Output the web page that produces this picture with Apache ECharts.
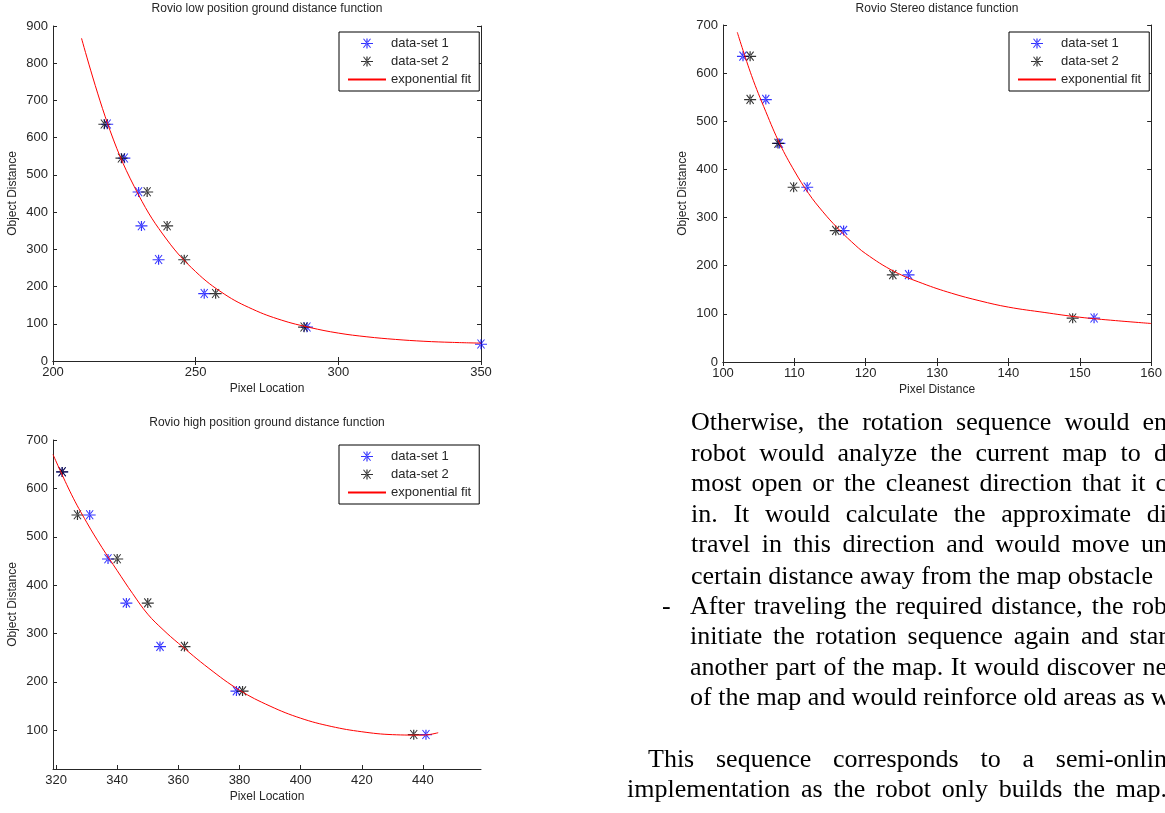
<!DOCTYPE html>
<html>
<head>
<meta charset="utf-8">
<title>Rovio distance functions</title>
<script src="https://cdn.jsdelivr.net/npm/echarts@6.0.0/dist/echarts.min.js"></script>
<style>
  html, body { margin: 0; padding: 0; background: #fff; }
  #chart { width: 1165px; height: 813px; }
</style>
</head>
<body>
<div id="chart"></div>
<script>
// Rovio low position ground distance function
const lowSet1X = [219, 225, 230, 231, 237, 253, 289, 350]
const lowSet1Y = [636, 545, 454, 363, 272, 181, 91, 45]
const lowSet2X = [218, 224, 233, 240, 246, 257, 288]
const lowSet2Y = [636, 545, 454, 363, 272, 181, 91]
const lowFitX = [210, 220, 230, 240, 250, 260, 270, 280, 290, 300, 310, 320, 330, 340, 350]
const lowFitY = [867, 619, 446, 325, 240, 180, 139, 110, 90, 75, 65, 58, 53, 50, 48]

// Rovio Stereo distance function
const stereoSet1X = [102.8, 106, 107.9, 111.8, 116.9, 126, 152]
const stereoSet1Y = [635, 545, 454, 363, 273, 181, 91]
const stereoSet2X = [103.8, 103.8, 107.7, 109.9, 115.8, 123.8, 149]
const stereoSet2Y = [635, 545, 454, 363, 273, 181, 91]
const stereoFitX = [102, 104, 106, 108, 110, 112, 114, 116, 118, 120, 124, 128, 132, 136, 140, 145, 150, 155, 160]
const stereoFitY = [685, 595, 520, 452, 397, 350, 312, 279, 250, 225, 188, 163, 143, 127, 114, 103, 93, 86, 80]

// Rovio high position ground distance function
const highSet1X = [322, 331, 337, 343, 354, 379, 441]
const highSet1Y = [634, 545, 454, 363, 273, 181, 91]
const highSet2X = [322, 327, 340, 350, 362, 381, 437]
const highSet2Y = [634, 545, 454, 363, 273, 181, 91]
const highFitX = [319, 325, 330, 335, 340, 345, 350, 355, 360, 370, 380, 390, 400, 410, 420, 430, 440, 445]
const highFitY = [670, 588, 530, 478, 430, 383, 340, 308, 280, 228, 183, 150, 125, 108, 97, 91, 90, 95]

// tick labels
const highXTicks = [320, 340, 360, 380, 400, 420, 440]
const highYTicks = [100, 200, 300, 400, 500, 600, 700]

const legendNames = ['data-set 1', 'data-set 2', 'exponential fit']

// page text next to the charts
const paraLines = [
  { text: 'Otherwise, the rotation sequence would en', x: 691, y: 423, justify: true },
  { text: 'robot would analyze the current map to d', x: 691, y: 454, justify: true },
  { text: 'most open or the cleanest direction that it c', x: 691, y: 484, justify: true },
  { text: 'in. It would calculate the approximate di', x: 691, y: 515, justify: true },
  { text: 'travel in this direction and would move un', x: 691, y: 545, justify: true },
  { text: 'certain distance away from the map obstacle', x: 691, y: 577, justify: false },
  { text: '-', x: 662, y: 607, justify: false },
  { text: 'After traveling the required distance, the rob', x: 690, y: 607, justify: true },
  { text: 'initiate the rotation sequence again and star', x: 690, y: 637, justify: true },
  { text: 'another part of the map. It would discover ne', x: 690, y: 668, justify: true },
  { text: 'of the map and would reinforce old areas as w', x: 690, y: 698, justify: false },
  { text: 'This sequence corresponds to a semi-onlin', x: 648, y: 760, justify: true },
  { text: 'implementation as the robot only builds the map.', x: 627, y: 790, justify: true }
]

const pairs = (xs, ys) => xs.map((x, i) => [x, ys[i]])

// matlab style '*' marker
const star = 'path://M0,4.4H12V5.6H0Z M5.4,0H6.6V10H5.4Z M2.1,0.6L2.9,0L10,9L9.2,9.6Z M9.9,0.6L9.1,0L2,9L2.8,9.6Z'

const sans = 'Liberation Sans'
const ink = '#262626'
const axisLine = { show: true, lineStyle: { color: ink, width: 1 } }
const tick = { show: true, inside: true, length: 4, lineStyle: { color: ink } }
const label = { fontFamily: sans, fontSize: 13, color: ink }
const nameStyle = { fontFamily: sans, fontSize: 12, color: ink }

function bottomAxis (grid, min, max, interval, name) {
  return {
    type: 'value', gridIndex: grid, position: 'bottom', min: min, max: max, interval: interval,
    name: name, nameLocation: 'middle', nameGap: 22, nameTextStyle: nameStyle,
    axisLine: axisLine, axisTick: tick, axisLabel: Object.assign({ margin: 5 }, label),
    splitLine: { show: false }
  }
}
function leftAxis (grid, min, max, interval) {
  return {
    type: 'value', gridIndex: grid, position: 'left', min: min, max: max, interval: interval,
    name: 'Object Distance', nameLocation: 'middle', nameGap: 34, nameTextStyle: nameStyle,
    axisLine: axisLine, axisTick: tick, axisLabel: Object.assign({ margin: 5 }, label),
    splitLine: { show: false }
  }
}
function frameAxis (grid, pos, min, max, interval) {
  return {
    type: 'value', gridIndex: grid, position: pos, min: min, max: max, interval: interval,
    axisLine: axisLine, axisTick: tick, axisLabel: { show: false }, splitLine: { show: false }
  }
}

const highX = bottomAxis(2, 319, 459, null, 'Pixel Location')
highX.axisLabel.customValues = highXTicks
highX.axisTick = Object.assign({ customValues: highXTicks }, tick)
const highY = leftAxis(2, 20, 700, null)
highY.axisLabel.customValues = highYTicks
highY.axisTick = Object.assign({ customValues: highYTicks }, tick)

function scatter (name, x, y, data, color) {
  return {
    name: name, type: 'scatter', xAxisIndex: x, yAxisIndex: y, data: data,
    symbol: star, symbolSize: [12, 10], itemStyle: { color: color }, z: 3
  }
}
// the symbol is kept but made transparent so the legend only shows the red line
function fit (x, y, data) {
  return {
    name: 'exponential fit', type: 'line', xAxisIndex: x, yAxisIndex: y, data: data,
    smooth: 0.4, showSymbol: false, symbol: 'circle', symbolSize: 1,
    lineStyle: { color: '#ff0000', width: 1 },
    itemStyle: { color: 'rgba(255,0,0,0)', borderWidth: 0 }, z: 4
  }
}

function legendAt (left, top) {
  return {
    left: left, top: top, orient: 'vertical', data: legendNames, selectedMode: false,
    backgroundColor: '#fff', borderColor: '#000', borderWidth: 1, padding: [5, 8, 5, 8],
    itemGap: 5, itemWidth: 38, itemHeight: 10,
    textStyle: { fontFamily: sans, fontSize: 13, color: ink }
  }
}

// justify the text lines so the cut words reach the right edge of the page
const paraFontSize = 26
const paraFamily = 'Liberation Serif'
const textRight = 1167
const measureCtx = document.createElement('canvas').getContext('2d')
measureCtx.font = paraFontSize + 'px "' + paraFamily + '"'

function lineWords (line) {
  const words = line.text.split(' ')
  const widths = words.map(w => measureCtx.measureText(w).width)
  const used = widths.reduce((a, b) => a + b, 0)
  const gap = line.justify && words.length > 1
    ? (textRight - line.x - used) / (words.length - 1)
    : measureCtx.measureText(' ').width
  let x = line.x
  return words.map((w, i) => {
    const el = {
      type: 'text', x: x, y: line.y, silent: true,
      style: { text: w, fontSize: paraFontSize, fontFamily: paraFamily, fill: '#000', verticalAlign: 'middle' }
    }
    x += widths[i] + gap
    return el
  })
}

const paraElements = []
paraLines.forEach(l => { paraElements.push(...lineWords(l)) })

const titleStyle = { fontFamily: sans, fontSize: 12, fontWeight: 'normal', color: ink }

const option = {
  animation: false,
  backgroundColor: '#fff',
  title: [
    { text: 'Rovio low position ground distance function', left: 267, top: 3, textAlign: 'center', padding: 0, textStyle: titleStyle },
    { text: 'Rovio Stereo distance function', left: 937, top: 3, textAlign: 'center', padding: 0, textStyle: titleStyle },
    { text: 'Rovio high position ground distance function', left: 267, top: 417, textAlign: 'center', padding: 0, textStyle: titleStyle }
  ],
  legend: [legendAt(339, 32), legendAt(1009, 32), legendAt(339, 445)],
  grid: [
    { left: 53, top: 26, width: 428, height: 335 },
    { left: 723, top: 25, width: 429, height: 337 },
    { left: 53, top: 440, width: 428, height: 329 }
  ],
  xAxis: [
    bottomAxis(0, 200, 350, 50, 'Pixel Location'),
    frameAxis(0, 'top', 200, 350, 50),
    bottomAxis(1, 100, 160, 10, 'Pixel Distance'),
    frameAxis(1, 'top', 100, 160, 10),
    highX
  ],
  yAxis: [
    leftAxis(0, 0, 900, 100),
    frameAxis(0, 'right', 0, 900, 100),
    leftAxis(1, 0, 700, 100),
    frameAxis(1, 'right', 0, 700, 100),
    highY
  ],
  series: [
    scatter('data-set 1', 0, 0, pairs(lowSet1X, lowSet1Y), '#0000ff'),
    scatter('data-set 2', 0, 0, pairs(lowSet2X, lowSet2Y), '#000000'),
    fit(0, 0, pairs(lowFitX, lowFitY)),
    scatter('data-set 1', 2, 2, pairs(stereoSet1X, stereoSet1Y), '#0000ff'),
    scatter('data-set 2', 2, 2, pairs(stereoSet2X, stereoSet2Y), '#000000'),
    fit(2, 2, pairs(stereoFitX, stereoFitY)),
    scatter('data-set 1', 4, 4, pairs(highSet1X, highSet1Y), '#0000ff'),
    scatter('data-set 2', 4, 4, pairs(highSet2X, highSet2Y), '#000000'),
    fit(4, 4, pairs(highFitX, highFitY))
  ],
  graphic: paraElements
}

const myChart = echarts.init(document.getElementById('chart'))
myChart.setOption(option)
</script>
</body>
</html>
